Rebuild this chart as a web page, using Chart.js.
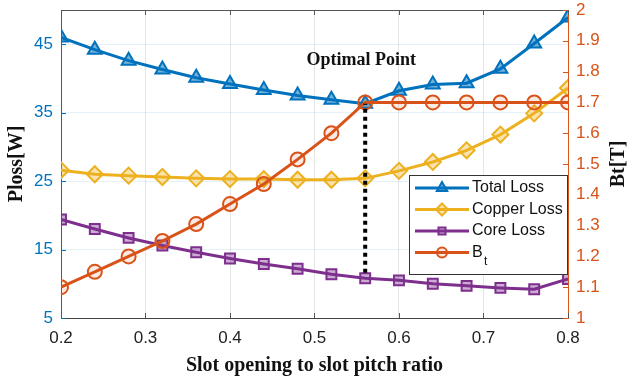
<!DOCTYPE html>
<html>
<head>
<meta charset="utf-8">
<script src="https://cdn.jsdelivr.net/npm/chart.js@4.4.0/dist/chart.umd.min.js"></script>
<style>
html,body{margin:0;padding:0;background:#fff;}
#wrap{width:630px;height:378px;}
</style>
</head>
<body>
<div id="wrap"><canvas id="myChart" width="630" height="378"></canvas></div>
<script>
// slot opening / slot pitch ratio
const ratios = [0.2,0.24,0.28,0.32,0.36,0.4,0.44,0.48,0.52,0.56,0.6,0.64,0.68,0.72,0.76,0.8]
const totalLoss = [46.0,44.2,42.6,41.3,40.1,39.2,38.3,37.5,36.9,36.3,38.2,39.1,39.3,41.4,45.1,48.9]
const copperLoss = [26.6,26.0,25.8,25.6,25.4,25.3,25.3,25.2,25.2,25.4,26.5,27.8,29.5,31.8,34.9,38.6]
const coreLoss = [19.4,18.0,16.7,15.6,14.6,13.7,12.9,12.2,11.4,10.8,10.5,10.0,9.7,9.4,9.2,10.7]
const bt = [1.10,1.15,1.20,1.25,1.305,1.37,1.435,1.515,1.60,1.70,1.70,1.70,1.70,1.70,1.70,1.70]
const optIndex = 9
const xTicks = [0.2,0.3,0.4,0.5,0.6,0.7,0.8]
const lossTicks = [5,15,25,35,45]
const btTicks = [1,1.1,1.2,1.3,1.4,1.5,1.6,1.7,1.8,1.9,2]

const BLUE = '#0072BD', YELLOW = '#EDB120', PURPLE = '#7E2F8E', ORANGE = '#D95319'
const tickFont = {family:'"Liberation Sans", Arial, sans-serif', size:17}
const serifBold = '"Liberation Serif", "Times New Roman", serif'

function pts(vals){ return ratios.map((r,i)=>({x:r,y:vals[i]})) }

const optLine = [{x:ratios[optIndex],y:coreLoss[optIndex]+0.8},{x:ratios[optIndex],y:totalLoss[optIndex]}]

// inner tick marks, top frame, labels and legend
const extras = {
	id:'extras',
	afterDatasetsDraw(chart){
		const ctx = chart.ctx, a = chart.chartArea
		const sx = chart.scales.x, sl = chart.scales.y, sr = chart.scales.y1
		ctx.save()
		ctx.lineWidth = 1
		ctx.strokeStyle = '#555'
		ctx.beginPath(); ctx.moveTo(a.left,a.top+0.5); ctx.lineTo(a.right,a.top+0.5); ctx.stroke()
		xTicks.forEach(v=>{
			const px = Math.round(sx.getPixelForValue(v))+0.5
			ctx.beginPath(); ctx.moveTo(px,a.bottom); ctx.lineTo(px,a.bottom-5)
			ctx.moveTo(px,a.top); ctx.lineTo(px,a.top+5); ctx.stroke()
		})
		ctx.strokeStyle = BLUE
		lossTicks.forEach(v=>{
			const py = Math.round(sl.getPixelForValue(v))+0.5
			ctx.beginPath(); ctx.moveTo(a.left,py); ctx.lineTo(a.left+5,py); ctx.stroke()
		})
		ctx.strokeStyle = ORANGE
		btTicks.forEach(v=>{
			const py = Math.round(sr.getPixelForValue(v))+0.5
			ctx.beginPath(); ctx.moveTo(a.right,py); ctx.lineTo(a.right-5,py); ctx.stroke()
		})
		// label
		ctx.fillStyle = '#111'
		ctx.font = 'bold 18px ' + serifBold
		ctx.textAlign = 'center'; ctx.textBaseline = 'middle'
		ctx.fillText('Optimal Point', sx.getPixelForValue(0.56)-4, sl.getPixelForValue(42.6))
		// right axis title, reading upwards like the left one
		ctx.save()
		ctx.translate(619, (a.top+a.bottom)/2)
		ctx.rotate(-Math.PI/2)
		ctx.font = 'bold 20px ' + serifBold
		ctx.fillText('Bt[T]', 0, 0)
		ctx.restore()
		// legend
		const lx = a.right-159, ly = a.top+165, lw = 158, lh = 99
		ctx.fillStyle = '#fff'; ctx.fillRect(lx,ly,lw,lh)
		ctx.strokeStyle = '#333'; ctx.lineWidth = 1
		ctx.strokeRect(lx+0.5,ly+0.5,lw,lh)
		const items = chart.data.datasets.filter(d=>d.label)
		items.forEach((d,i)=>{
			const cy = ly+13+i*21.5
			ctx.strokeStyle = d.borderColor; ctx.lineWidth = 3
			ctx.beginPath(); ctx.moveTo(lx+6,cy); ctx.lineTo(lx+60,cy); ctx.stroke()
			ctx.fillStyle = d.pointBackgroundColor
			ctx.lineWidth = 2
			Chart.helpers.drawPoint(ctx,{pointStyle:d.pointStyle,rotation:0,borderWidth:2,radius:d.pointRadius-2},lx+33,cy)
			ctx.fillStyle = '#111'
			ctx.font = '16px "Liberation Sans", Arial, sans-serif'
			ctx.textAlign = 'left'; ctx.textBaseline = 'middle'
			if(d.label==='Bt'){
				ctx.fillText('B', lx+63, cy)
				ctx.font = '12px "Liberation Sans", Arial, sans-serif'
				ctx.fillText('t', lx+75, cy+9)
			}else{
				ctx.fillText(d.label, lx+63, cy)
			}
		})
		ctx.restore()
	}
}

function lineSet(label,vals,color,style,radius,axis,fill,order){
	return {
		label:label, data:pts(vals), yAxisID:axis,
		borderColor:color, borderWidth:3,
		pointStyle:style, pointRadius:radius, pointBorderWidth:2,
		pointBorderColor:color, pointBackgroundColor:fill,
		order:order
	}
}

function fixY(width){
	return s=>{ s.width = width; s.paddingTop = 0; s.paddingBottom = 0 }
}

new Chart(document.getElementById('myChart').getContext('2d'),{
	type:'line',
	data:{datasets:[
		{data:optLine, yAxisID:'y', borderColor:'#000', borderWidth:4, borderDash:[4,4], pointRadius:0, order:0},
		lineSet('Total Loss',totalLoss,BLUE,'triangle',8,'y','rgba(0,114,189,0.55)',3),
		lineSet('Copper Loss',copperLoss,YELLOW,'rectRot',8,'y','rgba(237,177,32,0.35)',2),
		lineSet('Core Loss',coreLoss,PURPLE,'rect',7,'y','rgba(126,47,142,0.4)',4),
		lineSet('Bt',bt,ORANGE,'circle',7,'y1','rgba(217,83,25,0.12)',1)
	]},
	options:{
		responsive:false, animation:false,
		layout:{padding:{top:10,left:0,right:0,bottom:0}},
		plugins:{legend:{display:false},tooltip:{enabled:false}},
		scales:{
			x:{
				type:'linear', min:0.2, max:0.8,
				afterBuildTicks:s=>{s.ticks = xTicks.map(v=>({value:v}))},
				afterFit:s=>{s.height = 60},
				ticks:{color:'#222', font:tickFont, padding:10, callback:v=>v.toFixed(1)},
				grid:{color:'rgba(0,0,0,0.1)', drawTicks:false},
				border:{color:'#444'},
				title:{display:true, text:'Slot opening to slot pitch ratio', color:'#111', font:{family:serifBold, size:20, weight:'bold'}, padding:{top:2,bottom:0}}
			},
			y:{
				position:'left', min:5, max:50,
				afterBuildTicks:s=>{s.ticks = lossTicks.map(v=>({value:v}))},
				afterFit:fixY(61),
				ticks:{color:BLUE, font:tickFont, padding:8},
				grid:{color:'rgba(0,114,189,0.1)', drawTicks:false},
				border:{color:BLUE},
				title:{display:true, text:'Ploss[W]', color:'#111', font:{family:serifBold, size:20, weight:'bold'}, padding:{top:5,bottom:0}}
			},
			y1:{
				position:'right', min:1, max:2,
				afterBuildTicks:s=>{s.ticks = btTicks.map(v=>({value:v}))},
				afterFit:fixY(62),
				ticks:{color:ORANGE, font:tickFont, padding:8, callback:v=>String(Math.round(v*10)/10)},
				grid:{display:false, drawTicks:false},
				border:{color:ORANGE}
			}
		}
	},
	plugins:[extras]
})
</script>
</body>
</html>
